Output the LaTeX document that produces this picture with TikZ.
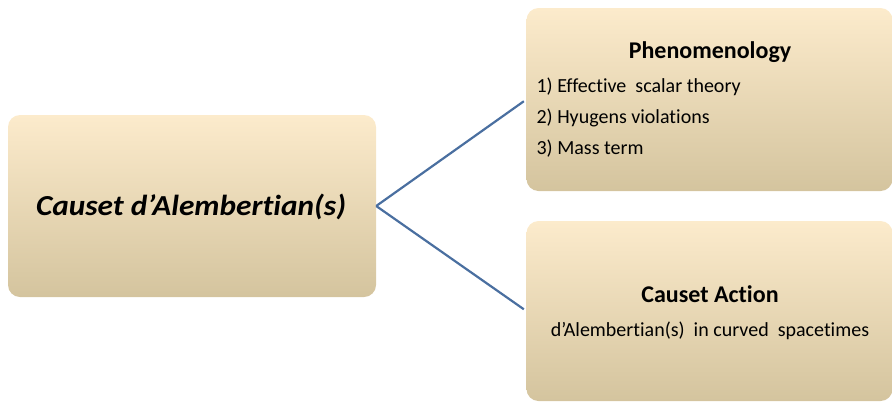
\documentclass[tikz,border=0pt]{standalone}
\usepackage{fontspec}
\setmainfont{Carlito}[Ligatures=CommonOff]
\newfontfamily\titlefont{Carlito}[Ligatures=CommonOff,FakeStretch=1.08]
\usepackage{tikz}
\usetikzlibrary{positioning}

\definecolor{boxtop}{RGB}{252,235,204}
\definecolor{boxmid}{RGB}{241,233,213}
\definecolor{boxbot}{RGB}{212,196,158}
\definecolor{linkblue}{RGB}{74,111,160}

\begin{document}
\begin{tikzpicture}
[x=1pt,y=-1pt,
 box/.style={shape=rectangle,rounded corners=12pt,minimum width=366pt,
   top color=boxtop,middle color=boxmid,bottom color=boxbot,inner sep=0pt},
 head/.style={font=\fontsize{24}{28}\selectfont\bfseries,anchor=base},
 item/.style={font=\fontsize{20}{24}\selectfont,anchor=base west},
 link/.style={draw=linkblue,line width=2.2pt,shorten >=3pt}]
\useasboundingbox (0,0) rectangle (893,402);
\node[box,minimum width=368pt,minimum height=182pt] (dal) at (192,206) {};
\node[box,minimum height=183pt] (pheno) at (709.5,99.5) {};
\node[box,minimum height=180pt] (action) at (709.5,311) {};

\node[anchor=base,font=\titlefont\fontsize{29}{33}\selectfont\bfseries\itshape] (dalname) at (191,215) {Causet d’Alembertian(s)};

\node[head] (phenoname) at (710,58) {Phenomenology};
\node[item] (eff) at (533,92) {1) Effective~ scalar theory};
\node[item] (huy) at (533,123) {2) Hyugens violations};
\node[item] (mass) at (533,154) {3) Mass term};

\node[head] (actionname) at (710,302) {Causet Action};
\node[item,anchor=base] (curved) at (710,336) {d’Alembertian(s)~ in curved~ spacetimes};

\draw[link] (dal.east) -- (pheno.west);
\draw[link] (dal.east) -- (action.west);
\end{tikzpicture}
\end{document}
